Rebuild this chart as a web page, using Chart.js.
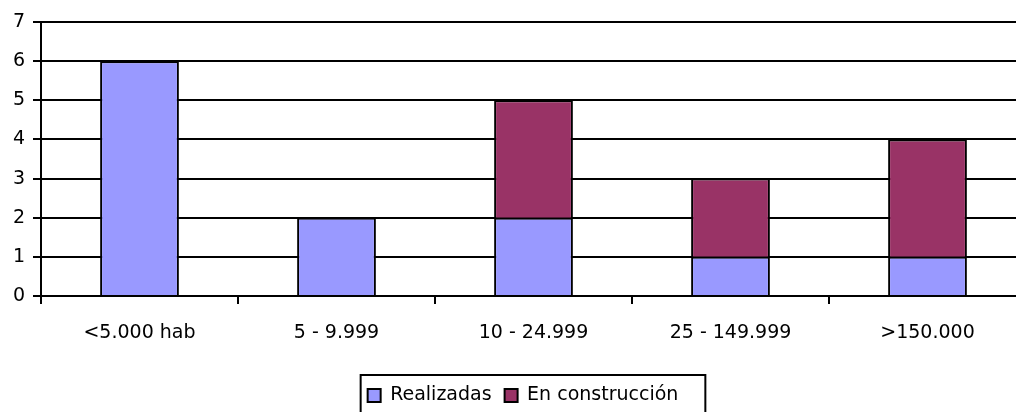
<!DOCTYPE html>
<html>
<head>
<meta charset="utf-8">
<script src="https://cdn.jsdelivr.net/npm/chart.js@4"></script>
<style>
  html, body { margin: 0; padding: 0; background: #fff; overflow: hidden; }
  #wrap { width: 1030px; height: 415px; }
</style>
</head>
<body>
<div id="wrap"><canvas id="chart"></canvas></div>
<script>
const categories = ['<5.000 hab', '5 - 9.999', '10 - 24.999', '25 - 149.999', '>150.000'];
const realizadas = [6, 2, 2, 1, 1];
const enConstruccion = [0, 0, 3, 2, 3];
const seriesNames = ['Realizadas', 'En construcción'];
const yTicks = [0, 1, 2, 3, 4, 5, 6, 7];

const font = { family: 'DejaVu Sans', size: 19 };

// legend sits centred on the plot area in the original, plus a frame round it
const legendFrame = {
  id: 'legendFrame',
  afterLayout(chart) {
    chart.legend.left += 10;
    chart.legend.right += 10;
  },
  afterDraw(chart) {
    const lg = chart.legend;
    const boxes = lg.legendHitBoxes;
    if (!boxes || !boxes.length) return;
    const first = boxes[0], last = boxes[boxes.length - 1];
    const ctx = chart.ctx;
    ctx.save();
    ctx.strokeStyle = '#000';
    ctx.lineWidth = 2;
    ctx.strokeRect(first.left - 7, lg.top + 2, last.left + last.width - first.left + 34, lg.height + 10);
    ctx.restore();
  }
};

new Chart(document.getElementById('chart'), {
  type: 'bar',
  data: {
    labels: categories,
    datasets: [{
      label: seriesNames[0],
      data: realizadas,
      backgroundColor: '#9999FF',
      borderColor: '#000',
      borderWidth: 2
    }, {
      label: seriesNames[1],
      data: enConstruccion,
      backgroundColor: '#993366',
      borderColor: '#000',
      borderWidth: 2
    }]
  },
  options: {
    responsive: true,
    maintainAspectRatio: false,
    animation: false,
    layout: { padding: { top: 22, right: 4, left: 0, bottom: 0 } },
    datasets: { bar: { categoryPercentage: 1, barPercentage: 0.4 } },
    scales: {
      x: {
        stacked: true,
        afterFit: s => { s.height = 77; },
        grid: { offset: true, drawOnChartArea: false, color: '#000', lineWidth: 2, tickLength: 8 },
        border: { display: true, color: '#000', width: 2 },
        ticks: { color: '#000', font: font, padding: 18, maxRotation: 0 }
      },
      y: {
        stacked: true,
        min: 0,
        max: 7,
        afterFit: s => { s.width = 41; },
        afterBuildTicks: s => { s.ticks = yTicks.map(v => ({ value: v })); },
        grid: { color: '#000', lineWidth: 2, tickLength: 8 },
        border: { display: true, color: '#000', width: 2 },
        ticks: { color: '#000', font: font, padding: 8 }
      }
    },
    plugins: {
      tooltip: { enabled: false },
      legend: {
        position: 'bottom',
        labels: { color: '#000', font: font, boxWidth: 13, boxHeight: 13, padding: 13 }
      }
    }
  },
  plugins: [legendFrame]
});
</script>
</body>
</html>
